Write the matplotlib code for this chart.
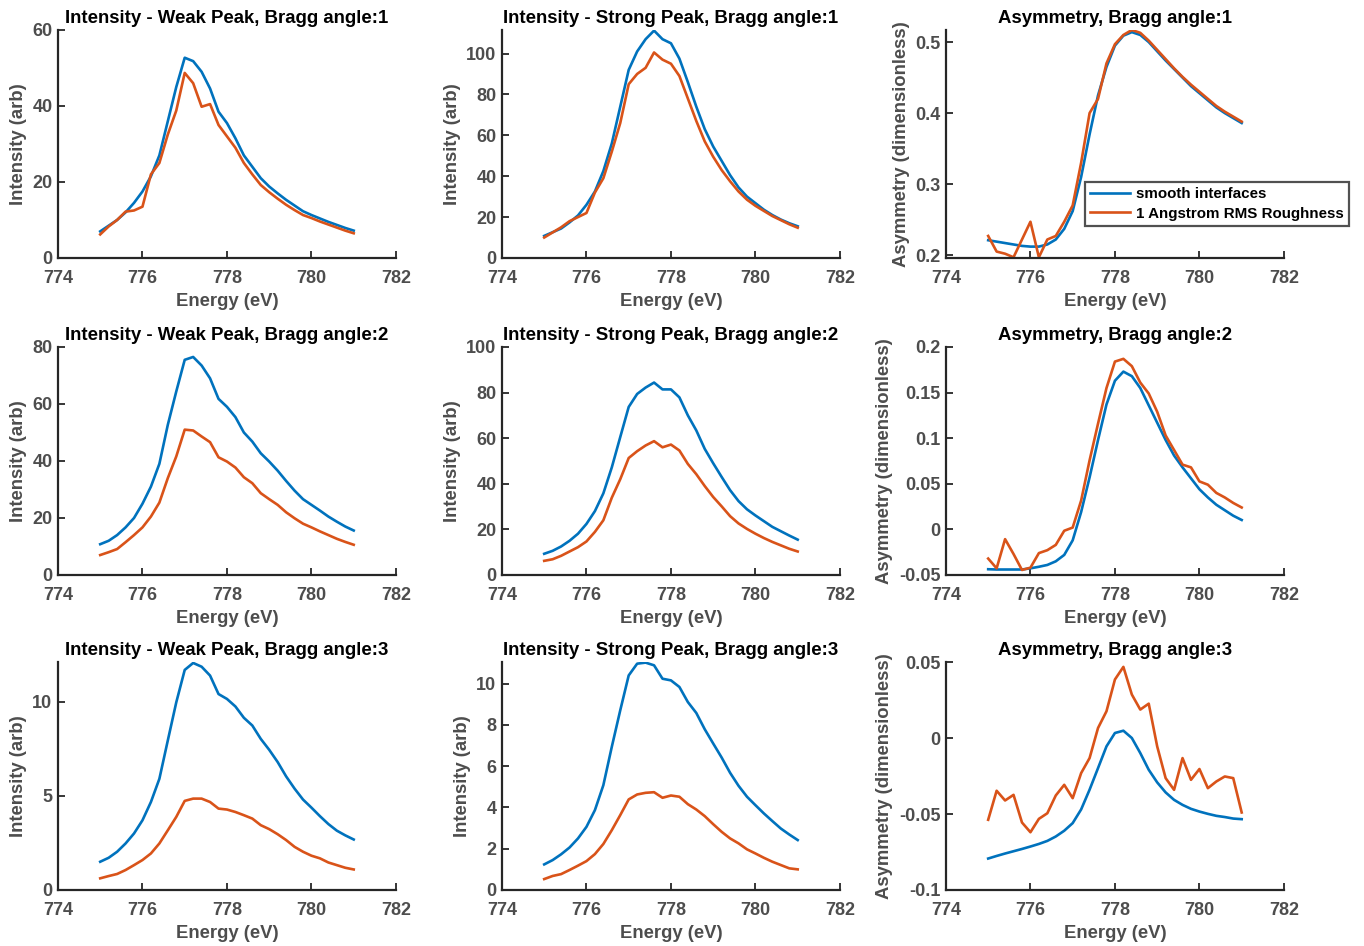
import matplotlib.pyplot as plt
from matplotlib.ticker import FuncFormatter, MultipleLocator
import numpy as np

plt.rcParams['font.family'] = ['Liberation Sans', 'DejaVu Sans']
plt.rcParams['font.weight'] = 'bold'

# photon energy grid, 775 -> 781 eV in 0.2 eV steps
energy = np.round(np.arange(775.0, 781.01, 0.2), 1)

# Bragg angle 1
weak1_smooth = [7.0, 8.5, 10.0, 12.0, 14.5, 17.5, 21.5, 27.0, 36.0, 45.0, 52.7, 51.8, 49.0, 44.6, 38.5, 35.5,
                31.5, 27.0, 24.0, 21.0, 18.8, 17.0, 15.3, 13.8, 12.3, 11.3, 10.4, 9.5, 8.7, 7.9, 7.2]
weak1_rough = [6.2, 8.3, 10.0, 12.2, 12.5, 13.5, 22.0, 25.0, 32.5, 38.8, 48.7, 46.0, 39.8, 40.5, 35.0, 32.0,
               29.0, 25.0, 22.0, 19.2, 17.3, 15.6, 14.0, 12.6, 11.3, 10.5, 9.6, 8.8, 8.0, 7.2, 6.5]
strong1_smooth = [10.8, 12.6, 14.4, 17.4, 20.8, 26.0, 32.5, 42.5, 56.0, 74.0, 92.0, 101.0, 107.0, 111.2, 107.0, 105.0,
                  97.5, 86.0, 74.0, 63.0, 54.5, 47.5, 40.5, 34.5, 30.0, 26.8, 23.6, 21.0, 18.8, 17.0, 15.5]
strong1_rough = [10.0, 12.5, 15.0, 18.0, 20.0, 22.0, 32.0, 39.0, 52.0, 66.0, 85.0, 90.0, 93.0, 100.5, 97.0, 95.0,
                 89.0, 78.0, 67.0, 57.0, 49.5, 43.0, 37.5, 32.5, 28.5, 25.5, 23.0, 20.5, 18.5, 16.5, 14.8]
asym1_smooth = [0.221, 0.219, 0.217, 0.215, 0.213, 0.212, 0.212, 0.215, 0.222, 0.237, 0.262, 0.310, 0.370, 0.425,
                0.465, 0.495, 0.509, 0.514, 0.510, 0.500, 0.487, 0.474, 0.462, 0.450, 0.438, 0.428, 0.418, 0.408,
                0.400, 0.393, 0.386]
asym1_rough = [0.227, 0.205, 0.202, 0.197, 0.222, 0.247, 0.197, 0.222, 0.227, 0.247, 0.270, 0.330, 0.400, 0.420,
               0.470, 0.497, 0.510, 0.517, 0.513, 0.502, 0.489, 0.476, 0.463, 0.451, 0.440, 0.430, 0.420, 0.410,
               0.402, 0.395, 0.388]

# Bragg angle 2
weak2_smooth = [10.8, 12.0, 14.0, 16.7, 20.0, 25.0, 31.0, 39.0, 52.7, 64.4, 75.5, 76.5, 73.5, 69.0, 61.8, 59.0,
                55.4, 50.0, 46.8, 42.7, 39.8, 36.6, 33.0, 29.6, 26.6, 24.6, 22.6, 20.5, 18.7, 17.0, 15.6]
weak2_rough = [7.0, 8.0, 9.1, 11.5, 14.0, 16.7, 20.5, 25.4, 34.0, 41.6, 51.0, 50.7, 48.6, 46.6, 41.3, 39.8,
               37.7, 34.3, 32.2, 28.7, 26.6, 24.6, 22.0, 19.9, 18.0, 16.7, 15.3, 14.0, 12.7, 11.6, 10.6]
strong2_smooth = [9.3, 10.6, 12.5, 15.0, 18.1, 22.4, 28.0, 35.8, 47.2, 60.5, 73.7, 79.4, 82.2, 84.4, 81.4, 81.4,
                  77.9, 70.0, 63.4, 55.3, 49.0, 43.0, 37.2, 32.4, 28.8, 26.1, 23.6, 21.1, 19.2, 17.3, 15.5]
strong2_rough = [6.2, 6.9, 8.4, 10.3, 12.2, 14.7, 18.9, 24.0, 33.9, 42.0, 51.3, 54.3, 56.8, 58.7, 56.0, 57.2,
                 54.6, 48.7, 44.2, 39.0, 34.2, 30.1, 25.8, 22.6, 20.2, 18.1, 16.2, 14.5, 13.0, 11.5, 10.3]
asym2_smooth = [-0.0437, -0.044, -0.044, -0.044, -0.044, -0.0427, -0.041, -0.039, -0.035, -0.028, -0.012, 0.019,
                0.057, 0.098, 0.137, 0.163, 0.173, 0.168, 0.155, 0.136, 0.117, 0.098, 0.081, 0.068, 0.056, 0.044,
                0.035, 0.027, 0.021, 0.015, 0.0103]
asym2_rough = [-0.032, -0.0427, -0.0107, -0.027, -0.0445, -0.042, -0.026, -0.0228, -0.017, -0.0015, 0.002, 0.0316,
               0.0757, 0.116, 0.155, 0.184, 0.187, 0.179, 0.161, 0.149, 0.129, 0.103, 0.087, 0.071, 0.068, 0.0526,
               0.049, 0.040, 0.035, 0.029, 0.024]

# Bragg angle 3
weak3_smooth = [1.5, 1.71, 2.03, 2.47, 3.0, 3.7, 4.67, 5.9, 7.94, 9.96, 11.68, 12.05, 11.85, 11.38, 10.4, 10.14,
                9.74, 9.14, 8.73, 8.02, 7.44, 6.79, 6.03, 5.38, 4.8, 4.37, 3.92, 3.5, 3.15, 2.9, 2.68]
weak3_rough = [0.62, 0.74, 0.85, 1.06, 1.32, 1.59, 1.94, 2.47, 3.17, 3.88, 4.73, 4.85, 4.85, 4.67, 4.32, 4.27,
               4.14, 3.97, 3.79, 3.44, 3.23, 2.96, 2.65, 2.29, 2.03, 1.82, 1.68, 1.46, 1.32, 1.18, 1.09]
strong3_smooth = [1.24, 1.45, 1.73, 2.06, 2.5, 3.06, 3.87, 5.08, 6.94, 8.71, 10.4, 10.97, 11.02, 10.89, 10.24, 10.16,
                  9.84, 9.11, 8.58, 7.79, 7.1, 6.42, 5.68, 5.05, 4.52, 4.11, 3.71, 3.34, 2.98, 2.69, 2.42]
strong3_rough = [0.53, 0.68, 0.77, 0.97, 1.18, 1.4, 1.74, 2.23, 2.9, 3.63, 4.39, 4.63, 4.71, 4.74, 4.47, 4.58,
                 4.52, 4.16, 3.9, 3.58, 3.19, 2.82, 2.5, 2.26, 1.97, 1.77, 1.56, 1.37, 1.21, 1.05, 1.0]
asym3_smooth = [-0.0793, -0.0776, -0.076, -0.0745, -0.073, -0.0714, -0.0697, -0.0677, -0.0648, -0.061, -0.056,
                -0.047, -0.034, -0.0198, -0.0055, 0.0033, 0.0048, 0.0, -0.0099, -0.0209, -0.0292, -0.0358, -0.0407,
                -0.044, -0.0466, -0.0484, -0.0499, -0.0512, -0.052, -0.053, -0.0534]
asym3_rough = [-0.0538, -0.0347, -0.0411, -0.0374, -0.0556, -0.062, -0.0532, -0.0495, -0.0378, -0.0308, -0.0396,
               -0.0231, -0.0132, 0.0066, 0.0176, 0.0385, 0.0468, 0.0286, 0.0187, 0.0226, -0.0055, -0.0264, -0.0341,
               -0.0132, -0.0275, -0.0204, -0.033, -0.0286, -0.0253, -0.0264, -0.049]

series_names = ['smooth interfaces', '1 Angstrom RMS Roughness']
BLUE = '#0072BD'
ORANGE = '#D95319'
AX_COLOR = '#262626'
LABEL_COLOR = '#4d4d4d'

# one entry per panel: (smooth, rough, title, ylabel, ylim, ytick step)
panels = [
    [(weak1_smooth, weak1_rough, 'Intensity - Weak Peak, Bragg angle:1', 'Intensity (arb)', (0, 60), 20),
     (strong1_smooth, strong1_rough, 'Intensity - Strong Peak, Bragg angle:1', 'Intensity (arb)', (0, 111.5), 20),
     (asym1_smooth, asym1_rough, 'Asymmetry, Bragg angle:1', 'Asymmetry (dimensionless)', (0.196, 0.517), 0.1)],
    [(weak2_smooth, weak2_rough, 'Intensity - Weak Peak, Bragg angle:2', 'Intensity (arb)', (0, 80), 20),
     (strong2_smooth, strong2_rough, 'Intensity - Strong Peak, Bragg angle:2', 'Intensity (arb)', (0, 100), 20),
     (asym2_smooth, asym2_rough, 'Asymmetry, Bragg angle:2', 'Asymmetry (dimensionless)', (-0.05, 0.2), 0.05)],
    [(weak3_smooth, weak3_rough, 'Intensity - Weak Peak, Bragg angle:3', 'Intensity (arb)', (0, 12.1), 5),
     (strong3_smooth, strong3_rough, 'Intensity - Strong Peak, Bragg angle:3', 'Intensity (arb)', (0, 11.05), 2),
     (asym3_smooth, asym3_rough, 'Asymmetry, Bragg angle:3', 'Asymmetry (dimensionless)', (-0.1, 0.05), 0.05)],
]

fig = plt.figure(figsize=(13.64, 9.46), dpi=100)

col_left = [0.0425, 0.368, 0.6935]
row_bottom = [0.7273, 0.3922, 0.0592]
ax_w, ax_h = 0.2478, 0.241

fmt = FuncFormatter(lambda v, pos: '%g' % round(v, 6))

for r in range(3):
    for c in range(3):
        smooth, rough, title, ylabel, ylim, ystep = panels[r][c]
        ax = fig.add_axes([col_left[c], row_bottom[r], ax_w, ax_h])
        l1, = ax.plot(energy, smooth, color=BLUE, lw=1.9)
        l2, = ax.plot(energy, rough, color=ORANGE, lw=1.9)
        ax.set_xlim(774, 782)
        ax.set_ylim(*ylim)
        ax.xaxis.set_major_locator(MultipleLocator(2))
        ax.yaxis.set_major_locator(MultipleLocator(ystep))
        ax.yaxis.set_major_formatter(fmt)
        ax.spines['top'].set_visible(False)
        ax.spines['right'].set_visible(False)
        for s in ('left', 'bottom'):
            ax.spines[s].set_color(AX_COLOR)
            ax.spines[s].set_linewidth(1.6)
        ax.tick_params(direction='in', length=5, width=1.3, color=AX_COLOR,
                       labelcolor=LABEL_COLOR, labelsize=13)
        ax.tick_params(axis='x', pad=9)
        ax.tick_params(axis='y', pad=4)
        for lab in ax.get_xticklabels() + ax.get_yticklabels():
            lab.set_fontweight('bold')
        ax.set_title(title, fontsize=13.4, fontweight='bold', color='black', pad=5)
        ax.set_xlabel('Energy (eV)', fontsize=13.3, fontweight='bold', color=LABEL_COLOR, labelpad=4)
        ax.set_ylabel(ylabel, fontsize=13.3, fontweight='bold', color=LABEL_COLOR, labelpad=4)
        if r == 0 and c == 2:
            leg = ax.legend([l1, l2], series_names, loc='upper left',
                            bbox_to_anchor=(1085 / 1364, 1 - 182 / 946), bbox_transform=fig.transFigure,
                            fontsize=10.9, frameon=True, fancybox=False, borderpad=0.35,
                            handlelength=2.6, handletextpad=0.4, labelspacing=0.35, borderaxespad=0)
            leg.get_frame().set_edgecolor(AX_COLOR)
            leg.get_frame().set_linewidth(1.6)
            for t in leg.get_texts():
                t.set_fontweight('bold')
                t.set_color('black')

fig.savefig('out.png', dpi=100)
